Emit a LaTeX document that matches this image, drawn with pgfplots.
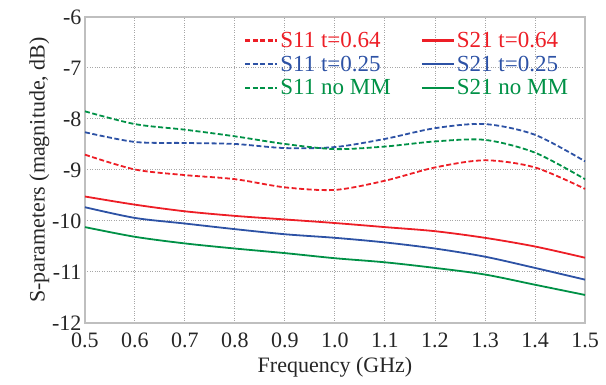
\documentclass[border=0pt]{standalone}
\usepackage{fontspec}
\setmainfont{Liberation Serif}
\usepackage{pgfplots}
\pgfplotsset{compat=1.18}
\definecolor{cr}{RGB}{237,30,38}
\definecolor{cb}{RGB}{45,82,165}
\definecolor{cg}{RGB}{0,145,70}
\begin{document}
\begin{tikzpicture}
\begin{axis}[
  scale only axis, width=500pt, height=306pt,
  xmin=0.5, xmax=1.5, ymin=-12, ymax=-6,
  xtick={0.5,0.6,...,1.5}, ytick={-12,-11,...,-6},
  /pgf/number format/assume math mode=true,
  tick label style={font=\rmfamily\fontsize{22}{22}\selectfont, text=black!85},
  xticklabel style={yshift=-6pt, /pgf/number format/.cd, fixed, fixed zerofill, precision=1},
  yticklabel style={/pgf/number format/.cd, fixed, precision=0},
  label style={font=\rmfamily\fontsize{22}{22}\selectfont, text=black!85},
  xlabel={Frequency (GHz)}, ylabel={S-parameters (magnitude, dB)},
  xlabel style={yshift=-3pt},
  ylabel style={yshift=-4pt},
  grid=major, major grid style={dotted, gray!70, line width=1pt},
  axis line style={gray!50, line width=1.2pt},
  major tick length=0pt,
  legend columns=2,
  legend style={draw=none, fill=none, at={(0.318,0.958)}, anchor=north west,
    font=\rmfamily\fontsize{23}{23}\selectfont, row sep=3pt, inner sep=0pt,
    /tikz/every even column/.append style={column sep=28pt}},
  legend cell align=left,
  legend image code/.code={\draw[#1, line width=2.2pt] (0pt,0pt) -- (32pt,0pt);},
  every axis plot/.append style={line width=1.8pt, smooth},
  clip=false,
]
\path (rel axis cs:0,0) ++(-85pt,-62pt) coordinate (bbA);
\path (rel axis cs:1,1) ++(21pt,17pt) coordinate (bbB);
\addplot[cr, dash pattern=on 5pt off 2.5pt] coordinates {(0.5,-8.70)(0.6,-8.99)(0.7,-9.10)(0.8,-9.18)(0.9,-9.34)(1.0,-9.39)(1.1,-9.21)(1.2,-8.95)(1.3,-8.81)(1.4,-8.95)(1.5,-9.37)};
\addlegendentry{\textcolor{cr}{S11 t=0.64}}
\addplot[cr] coordinates {(0.5,-9.52)(0.6,-9.68)(0.7,-9.81)(0.8,-9.90)(0.9,-9.97)(1.0,-10.04)(1.1,-10.12)(1.2,-10.20)(1.3,-10.33)(1.4,-10.50)(1.5,-10.72)};
\addlegendentry{\textcolor{cr}{S21 t=0.64}}
\addplot[cb, dash pattern=on 5pt off 2.5pt] coordinates {(0.5,-8.26)(0.6,-8.45)(0.7,-8.47)(0.8,-8.49)(0.9,-8.57)(1.0,-8.55)(1.1,-8.39)(1.2,-8.18)(1.3,-8.10)(1.4,-8.31)(1.5,-8.83)};
\addlegendentry{\textcolor{cb}{S11 t=0.25}}
\addplot[cb] coordinates {(0.5,-9.73)(0.6,-9.94)(0.7,-10.05)(0.8,-10.16)(0.9,-10.26)(1.0,-10.33)(1.1,-10.42)(1.2,-10.54)(1.3,-10.70)(1.4,-10.92)(1.5,-11.15)};
\addlegendentry{\textcolor{cb}{S21 t=0.25}}
\addplot[cg, dash pattern=on 5pt off 2.5pt] coordinates {(0.5,-7.85)(0.6,-8.10)(0.7,-8.21)(0.8,-8.34)(0.9,-8.49)(1.0,-8.59)(1.1,-8.54)(1.2,-8.44)(1.3,-8.41)(1.4,-8.66)(1.5,-9.18)};
\addlegendentry{\textcolor{cg}{S11 no MM}}
\addplot[cg] coordinates {(0.5,-10.12)(0.6,-10.31)(0.7,-10.44)(0.8,-10.54)(0.9,-10.63)(1.0,-10.73)(1.1,-10.81)(1.2,-10.92)(1.3,-11.05)(1.4,-11.25)(1.5,-11.45)};
\addlegendentry{\textcolor{cg}{S21 no MM}}
\end{axis}
\path[use as bounding box] (bbA) rectangle (bbB);
\end{tikzpicture}
\end{document}
